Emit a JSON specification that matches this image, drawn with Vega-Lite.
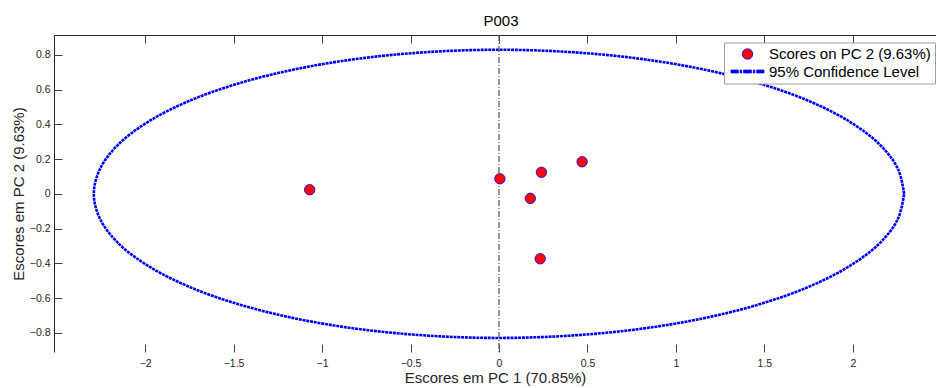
{
  "$schema": "https://vega.github.io/schema/vega-lite/v6.json",
  "width": 882,
  "height": 317,
  "autosize": {"type": "none"},
  "padding": {"left": 54, "top": 35, "right": 0, "bottom": 36},
  "background": "white",
  "config": {
    "view": {"stroke": null},
    "font": "Liberation Sans",
    "axis": {"grid": false, "labelFont": "Liberation Sans", "titleFont": "Liberation Sans", "labelColor": "#262626", "titleColor": "#262626", "domainColor": "#262626", "tickColor": "#444444", "titleFontWeight": "normal", "minExtent": 0},
    "legend": {
      "title": null, "orient": "none", "legendX": 670, "legendY": 7.5, "direction": "vertical",
      "padding": 4, "rowPadding": 1.5, "labelFontSize": 15, "labelFont": "Liberation Sans", "labelColor": "#000000", "labelLimit": 400,
      "symbolSize": 110, "symbolStrokeWidth": 0.8, "symbolOffset": 12, "labelOffset": 14,
      "strokeColor": "#a0a0a0", "fillColor": "#ffffff", "cornerRadius": 0
    }
  },
  "title": {"text": "P003", "fontSize": 15, "fontWeight": "normal", "font": "Liberation Sans", "color": "#000000", "baseline": "alphabetic", "offset": -7, "dx": 6},
  "datasets": {
    "ellipse": [
      {"t": 0, "x": 2.29, "y": 0},
      {"t": 1, "x": 2.255, "y": 0.144},
      {"t": 2, "x": 2.152, "y": 0.284},
      {"t": 3, "x": 1.983, "y": 0.415},
      {"t": 4, "x": 1.754, "y": 0.534},
      {"t": 5, "x": 1.472, "y": 0.636},
      {"t": 6, "x": 1.145, "y": 0.719},
      {"t": 7, "x": 0.783, "y": 0.78},
      {"t": 8, "x": 0.398, "y": 0.817},
      {"t": 9, "x": 0, "y": 0.83},
      {"t": 10, "x": -0.398, "y": 0.817},
      {"t": 11, "x": -0.783, "y": 0.78},
      {"t": 12, "x": -1.145, "y": 0.719},
      {"t": 13, "x": -1.472, "y": 0.636},
      {"t": 14, "x": -1.754, "y": 0.534},
      {"t": 15, "x": -1.983, "y": 0.415},
      {"t": 16, "x": -2.152, "y": 0.284},
      {"t": 17, "x": -2.255, "y": 0.144},
      {"t": 18, "x": -2.29, "y": 0},
      {"t": 19, "x": -2.255, "y": -0.144},
      {"t": 20, "x": -2.152, "y": -0.284},
      {"t": 21, "x": -1.983, "y": -0.415},
      {"t": 22, "x": -1.754, "y": -0.534},
      {"t": 23, "x": -1.472, "y": -0.636},
      {"t": 24, "x": -1.145, "y": -0.719},
      {"t": 25, "x": -0.783, "y": -0.78},
      {"t": 26, "x": -0.398, "y": -0.817},
      {"t": 27, "x": 0, "y": -0.83},
      {"t": 28, "x": 0.398, "y": -0.817},
      {"t": 29, "x": 0.783, "y": -0.78},
      {"t": 30, "x": 1.145, "y": -0.719},
      {"t": 31, "x": 1.472, "y": -0.636},
      {"t": 32, "x": 1.754, "y": -0.534},
      {"t": 33, "x": 1.983, "y": -0.415},
      {"t": 34, "x": 2.152, "y": -0.284},
      {"t": 35, "x": 2.255, "y": -0.144},
      {"t": 36, "x": 2.29, "y": 0}
    ],
    "scores": [
      {"x": -1.07, "y": 0.024, "series": "Scores on PC 2 (9.63%)"},
      {"x": 0.005, "y": 0.087, "series": "Scores on PC 2 (9.63%)"},
      {"x": 0.24, "y": 0.124, "series": "Scores on PC 2 (9.63%)"},
      {"x": 0.47, "y": 0.185, "series": "Scores on PC 2 (9.63%)"},
      {"x": 0.177, "y": -0.026, "series": "Scores on PC 2 (9.63%)"},
      {"x": 0.233, "y": -0.374, "series": "Scores on PC 2 (9.63%)"}
    ],
    "zero": [{"x": 0}]
  },
  "resolve": {"axis": {"x": "independent", "y": "independent"}},
  "layer": [
    {
      "data": {"name": "ellipse"},
      "mark": {"type": "line", "interpolate": "catmull-rom", "color": "#0000ff", "strokeWidth": 2.6, "strokeDash": [3, 0.8]},
      "encoding": {
        "x": {"field": "x", "type": "quantitative", "scale": {"domain": [-2.515, 2.47], "nice": false, "zero": false},
          "axis": {"orient": "bottom", "values": [-2, -1.5, -1, -0.5, 0, 0.5, 1, 1.5, 2], "format": "~g", "domain": false, "tickSize": -8, "labelPadding": 14, "labelFontSize": 10.5, "labelFlush": false, "title": "Escores em PC 1 (70.85%)", "titleFontSize": 15, "titleX": 441, "titleY": 30, "titleBaseline": "alphabetic", "titleAlign": "center"}},
        "y": {"field": "y", "type": "quantitative", "scale": {"domain": [-0.911, 0.915], "nice": false, "zero": false},
          "axis": {"orient": "left", "values": [-0.8, -0.6, -0.4, -0.2, 0, 0.2, 0.4, 0.6, 0.8], "format": "~g", "domain": true, "tickSize": -8, "labelPadding": 12, "labelFontSize": 10.5, "labelFlush": false, "title": "Escores em PC 2 (9.63%)", "titleFontSize": 15, "titleX": -31, "titleY": 158.5, "titleBaseline": "alphabetic", "titleAlign": "center", "titleAngle": -90}},
        "order": {"field": "t", "type": "quantitative"}
      }
    },
    {
      "data": {"name": "zero"},
      "mark": {"type": "rule", "color": "#555555", "strokeWidth": 1.2, "strokeDash": [6, 2, 1, 2]},
      "encoding": {
        "x": {"field": "x", "type": "quantitative",
          "axis": {"orient": "top", "values": [-2, -1.5, -1, -0.5, 0, 0.5, 1, 1.5, 2], "domain": true, "tickSize": -8, "labels": false, "title": null, "minExtent": 0}}
      }
    },
    {
      "data": {"name": "scores"},
      "mark": {"type": "point", "filled": true, "size": 110, "stroke": "#0000ff", "strokeWidth": 0.8, "opacity": 1},
      "encoding": {
        "x": {"field": "x", "type": "quantitative", "axis": null},
        "y": {"field": "y", "type": "quantitative", "axis": null},
        "color": {"field": "series", "type": "nominal",
          "scale": {"domain": ["Scores on PC 2 (9.63%)", "95% Confidence Level"], "range": ["#ff0000", "#0000ff"]}},
        "shape": {"field": "series", "type": "nominal",
          "scale": {"domain": ["Scores on PC 2 (9.63%)", "95% Confidence Level"], "range": ["circle", "M-3.15,-0.28H-1.75V0.28H-3.15Z M-1.4,-0.28H-1.1V0.28H-1.4Z M-0.75,-0.28H0.75V0.28H-0.75Z M1.1,-0.28H1.4V0.28H1.1Z M1.75,-0.28H3.15V0.28H1.75Z"]}}
      }
    }
  ]
}
